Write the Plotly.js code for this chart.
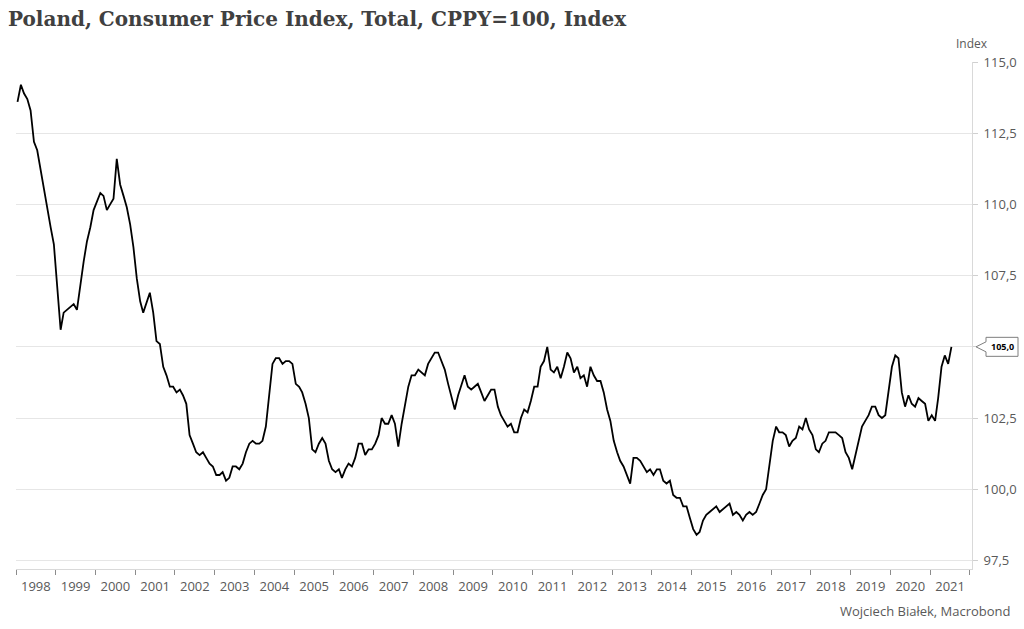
<!DOCTYPE html>
<html>
<head>
<meta charset="utf-8">
<script src="https://cdn.plot.ly/plotly-3.0.1.min.js"></script>
<style>
  html, body { margin: 0; padding: 0; background: #ffffff; }
  #chart { width: 1024px; height: 629px; }
</style>
</head>
<body>
<div id="chart"></div>
<script>
// Poland, Consumer Price Index, Total, CPPY=100 (monthly, Jan 1998 - Jul 2021)
const startYear = 1998;
const startMonth = 1;
const cpi1998 = [113.6, 114.2, 113.9, 113.7, 113.3, 112.2, 111.9, 111.2, 110.5, 109.8, 109.2, 108.6];
const cpi1999 = [107.0, 105.6, 106.2, 106.3, 106.4, 106.5, 106.3, 107.2, 108.0, 108.7, 109.2, 109.8];
const cpi2000 = [110.1, 110.4, 110.3, 109.8, 110.0, 110.2, 111.6, 110.7, 110.3, 109.9, 109.3, 108.5];
const cpi2001 = [107.4, 106.6, 106.2, 106.6, 106.9, 106.2, 105.2, 105.1, 104.3, 104.0, 103.6, 103.6];
const cpi2002 = [103.4, 103.5, 103.3, 103.0, 101.9, 101.6, 101.3, 101.2, 101.3, 101.1, 100.9, 100.8];
const cpi2003 = [100.5, 100.5, 100.6, 100.3, 100.4, 100.8, 100.8, 100.7, 100.9, 101.3, 101.6, 101.7];
const cpi2004 = [101.6, 101.6, 101.7, 102.2, 103.4, 104.4, 104.6, 104.6, 104.4, 104.5, 104.5, 104.4];
const cpi2005 = [103.7, 103.6, 103.4, 103.0, 102.5, 101.4, 101.3, 101.6, 101.8, 101.6, 101.0, 100.7];
const cpi2006 = [100.6, 100.7, 100.4, 100.7, 100.9, 100.8, 101.1, 101.6, 101.6, 101.2, 101.4, 101.4];
const cpi2007 = [101.6, 101.9, 102.5, 102.3, 102.3, 102.6, 102.3, 101.5, 102.3, 103.0, 103.6, 104.0];
const cpi2008 = [104.0, 104.2, 104.1, 104.0, 104.4, 104.6, 104.8, 104.8, 104.5, 104.2, 103.7, 103.3];
const cpi2009 = [102.8, 103.3, 103.6, 104.0, 103.6, 103.5, 103.6, 103.7, 103.4, 103.1, 103.3, 103.5];
const cpi2010 = [103.5, 102.9, 102.6, 102.4, 102.2, 102.3, 102.0, 102.0, 102.5, 102.8, 102.7, 103.1];
const cpi2011 = [103.6, 103.6, 104.3, 104.5, 105.0, 104.2, 104.1, 104.3, 103.9, 104.3, 104.8, 104.6];
const cpi2012 = [104.1, 104.3, 103.9, 104.0, 103.6, 104.3, 104.0, 103.8, 103.8, 103.4, 102.8, 102.4];
const cpi2013 = [101.7, 101.3, 101.0, 100.8, 100.5, 100.2, 101.1, 101.1, 101.0, 100.8, 100.6, 100.7];
const cpi2014 = [100.5, 100.7, 100.7, 100.3, 100.2, 100.3, 99.8, 99.7, 99.7, 99.4, 99.4, 99.0];
const cpi2015 = [98.6, 98.4, 98.5, 98.9, 99.1, 99.2, 99.3, 99.4, 99.2, 99.3, 99.4, 99.5];
const cpi2016 = [99.1, 99.2, 99.1, 98.9, 99.1, 99.2, 99.1, 99.2, 99.5, 99.8, 100.0, 100.8];
const cpi2017 = [101.7, 102.2, 102.0, 102.0, 101.9, 101.5, 101.7, 101.8, 102.2, 102.1, 102.5, 102.1];
const cpi2018 = [101.9, 101.4, 101.3, 101.6, 101.7, 102.0, 102.0, 102.0, 101.9, 101.8, 101.3, 101.1];
const cpi2019 = [100.7, 101.2, 101.7, 102.2, 102.4, 102.6, 102.9, 102.9, 102.6, 102.5, 102.6, 103.4];
const cpi2020 = [104.3, 104.7, 104.6, 103.4, 102.9, 103.3, 103.0, 102.9, 103.2, 103.1, 103.0, 102.4];
const cpi2021 = [102.6, 102.4, 103.2, 104.3, 104.7, 104.4, 105.0];

const yTickVals = [97.5, 100.0, 102.5, 105.0, 107.5, 110.0, 112.5, 115.0];
const titleText = 'Poland, Consumer Price Index, Total, CPPY=100, Index';
const unitLabel = 'Index';
const sourceText = 'Wojciech Białek, Macrobond';

const values = [].concat(cpi1998, cpi1999, cpi2000, cpi2001, cpi2002, cpi2003, cpi2004,
  cpi2005, cpi2006, cpi2007, cpi2008, cpi2009, cpi2010, cpi2011, cpi2012, cpi2013,
  cpi2014, cpi2015, cpi2016, cpi2017, cpi2018, cpi2019, cpi2020, cpi2021);

const dates = values.map((v, i) => {
  const m = startMonth - 1 + i;
  const y = startYear + Math.floor(m / 12);
  const mm = (m % 12) + 1;
  return y + '-' + String(mm).padStart(2, '0') + '-15';
});

const fmt = v => v.toFixed(1).replace('.', ',');
const lastVal = values[values.length - 1];
const lastLabel = fmt(lastVal);
// the last-value box covers the tick label at the same level
const yTickText = yTickVals.map(v => (Math.abs(v - lastVal) < 0.3 ? '' : fmt(v)));

const grey = '#595959';
const tickFont = { family: 'Open Sans, sans-serif', size: 13, color: grey };

const trace = {
  type: 'scatter',
  mode: 'lines',
  x: dates,
  y: values,
  line: { color: '#000000', width: 1.8 },
  hoverinfo: 'skip',
  showlegend: false
};

const layout = {
  width: 1024,
  height: 629,
  paper_bgcolor: '#ffffff',
  plot_bgcolor: '#ffffff',
  separators: ',.',
  margin: { l: 16, r: 52, t: 62, b: 60, pad: 0 },
  title: {
    text: '<b>' + titleText + '</b>',
    font: { family: 'DejaVu Serif, serif', size: 20, color: '#404040' },
    x: 8 / 1024, xref: 'container', xanchor: 'left',
    y: 1 - 19 / 629, yref: 'container', yanchor: 'middle'
  },
  xaxis: {
    type: 'date',
    range: ['1998-01-01', '2022-01-20'],
    tickmode: 'linear',
    tick0: '1998-01-01',
    dtick: 'M12',
    tickformat: '%Y',
    ticklabelmode: 'period',
    ticks: 'outside',
    ticklen: 5,
    tickwidth: 1,
    tickcolor: '#8c8c8c',
    tickfont: tickFont,
    showgrid: false,
    showline: true,
    linecolor: '#d9d9d9',
    linewidth: 1,
    zeroline: false,
    fixedrange: true
  },
  yaxis: {
    side: 'right',
    range: [97.2, 115.0],
    tickmode: 'array',
    tickvals: yTickVals,
    ticktext: yTickText,
    ticks: 'outside',
    ticklen: 5,
    tickwidth: 1,
    tickcolor: '#d0d0d0',
    ticklabelstandoff: 3,
    tickfont: tickFont,
    showgrid: true,
    gridcolor: '#e6e6e6',
    gridwidth: 1,
    showline: true,
    linecolor: '#d9d9d9',
    linewidth: 1,
    zeroline: false,
    fixedrange: true
  },
  shapes: [
    {
      type: 'path',
      xref: 'paper', xsizemode: 'pixel', xanchor: 1,
      yref: 'y', ysizemode: 'pixel', yanchor: lastVal,
      path: 'M 4,0 L 14,5 L 14,9.5 L 46,9.5 L 46,-9.5 L 14,-9.5 L 14,-5 Z',
      fillcolor: '#ffffff',
      line: { color: '#7f7f7f', width: 1 },
      layer: 'above'
    }
  ],
  annotations: [
    {
      text: lastLabel,
      xref: 'paper', x: 1, xanchor: 'center', xshift: 30,
      yref: 'y', y: lastVal, yanchor: 'middle',
      showarrow: false,
      font: { family: 'Open Sans, sans-serif', size: 9, color: '#000000', weight: 'bold' }
    },
    {
      text: unitLabel,
      xref: 'paper', x: 1, xanchor: 'center', xshift: 0,
      yref: 'paper', y: 1, yanchor: 'middle', yshift: 19,
      showarrow: false,
      font: { family: 'Open Sans, sans-serif', size: 12, color: grey }
    },
    {
      text: sourceText,
      xref: 'paper', x: 1, xanchor: 'right', xshift: 41,
      yref: 'paper', y: 0, yanchor: 'middle', yshift: -42,
      showarrow: false,
      font: { family: 'Open Sans, sans-serif', size: 13, color: grey }
    }
  ],
  hovermode: false
};

Plotly.newPlot('chart', [trace], layout, { displayModeBar: false, staticPlot: true });
</script>
</body>
</html>
